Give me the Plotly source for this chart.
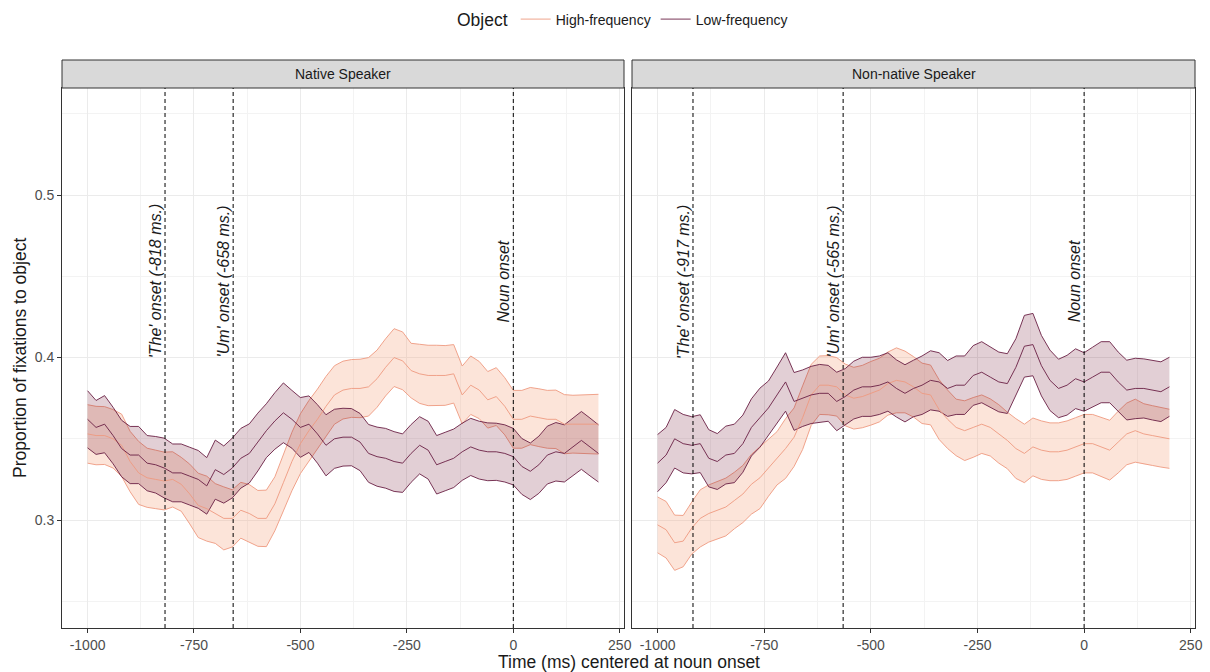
import plotly.graph_objects as go

# ---------------- data ----------------
time_ms = [-1000, -980, -960, -940, -920, -900, -880, -860, -840, -820,
           -800, -780, -760, -740, -720, -700, -680, -660, -640, -620,
           -600, -580, -560, -540, -520, -500, -480, -460, -440, -420,
           -400, -380, -360, -340, -320, -300, -280, -260, -240, -220,
           -200, -180, -160, -140, -120, -100, -80, -60, -40, -20,
           0, 20, 40, 60, 80, 100, 120, 140, 160, 180, 200]

# Native speaker, low-frequency object
native_low_mean = [0.362, 0.357, 0.359, 0.352, 0.344, 0.340, 0.340, 0.335, 0.334, 0.332,
                   0.329, 0.329, 0.327, 0.325, 0.321, 0.331, 0.328, 0.332, 0.338, 0.341,
                   0.348, 0.355, 0.361, 0.366, 0.362, 0.357, 0.359, 0.353, 0.346, 0.350,
                   0.351, 0.351, 0.348, 0.341, 0.339, 0.338, 0.336, 0.335, 0.341, 0.346,
                   0.343, 0.334, 0.336, 0.338, 0.342, 0.345, 0.343, 0.342, 0.342, 0.341,
                   0.339, 0.333, 0.330, 0.334, 0.340, 0.342, 0.341, 0.345, 0.349, 0.345, 0.341]
native_low_se = [0.0176, 0.0166, 0.0176, 0.0174, 0.0174, 0.0176, 0.0176, 0.0170, 0.0174, 0.0184,
                 0.0178, 0.0178, 0.0178, 0.0178, 0.0174, 0.0182, 0.0176, 0.0184, 0.0184, 0.0182,
                 0.0178, 0.0166, 0.0174, 0.0184, 0.0178, 0.0184, 0.0174, 0.0180, 0.0188, 0.0182,
                 0.0178, 0.0176, 0.0176, 0.0178, 0.0182, 0.0184, 0.0184, 0.0180, 0.0178, 0.0176,
                 0.0178, 0.0180, 0.0180, 0.0180, 0.0176, 0.0176, 0.0178, 0.0178, 0.0176, 0.0176,
                 0.0174, 0.0172, 0.0174, 0.0176, 0.0178, 0.0180, 0.0176, 0.0176, 0.0178, 0.0178, 0.0176]

# Native speaker, high-frequency object
native_high_mean = [0.353, 0.352, 0.352, 0.350, 0.346, 0.336, 0.329, 0.326, 0.325, 0.324,
                    0.325, 0.322, 0.316, 0.309, 0.307, 0.304, 0.301, 0.301, 0.306, 0.304,
                    0.301, 0.301, 0.310, 0.323, 0.336, 0.347, 0.355, 0.362, 0.370, 0.377,
                    0.380, 0.381, 0.381, 0.382, 0.387, 0.394, 0.400, 0.398, 0.392, 0.390,
                    0.389, 0.389, 0.389, 0.390, 0.377, 0.383, 0.380, 0.374, 0.376, 0.370,
                    0.362, 0.362, 0.364, 0.363, 0.362, 0.362, 0.359, 0.359, 0.359, 0.359, 0.359]
native_high_se = [0.0180, 0.0180, 0.0178, 0.0180, 0.0192, 0.0186, 0.0194, 0.0182, 0.0180, 0.0178,
                  0.0170, 0.0166, 0.0184, 0.0198, 0.0200, 0.0184, 0.0194, 0.0176, 0.0172, 0.0178,
                  0.0172, 0.0174, 0.0166, 0.0174, 0.0180, 0.0184, 0.0186, 0.0186, 0.0184, 0.0180,
                  0.0178, 0.0178, 0.0180, 0.0180, 0.0176, 0.0176, 0.0178, 0.0178, 0.0168, 0.0182,
                  0.0186, 0.0186, 0.0184, 0.0180, 0.0178, 0.0180, 0.0176, 0.0174, 0.0178, 0.0176,
                  0.0178, 0.0178, 0.0176, 0.0178, 0.0178, 0.0180, 0.0182, 0.0178, 0.0180, 0.0182, 0.0184]

# Non-native speaker, low-frequency object
nonnative_low_mean = [0.335, 0.340, 0.350, 0.347, 0.346, 0.347, 0.338, 0.336, 0.340, 0.341,
                      0.347, 0.357, 0.363, 0.369, 0.377, 0.385, 0.373, 0.375, 0.377, 0.378,
                      0.378, 0.373, 0.376, 0.380, 0.382, 0.382, 0.383, 0.385, 0.381, 0.378,
                      0.381, 0.383, 0.386, 0.385, 0.381, 0.383, 0.383, 0.389, 0.391, 0.388,
                      0.385, 0.384, 0.394, 0.407, 0.408, 0.395, 0.386, 0.381, 0.383, 0.387,
                      0.385, 0.388, 0.391, 0.391, 0.385, 0.380, 0.381, 0.381, 0.380, 0.379, 0.382]
nonnative_low_se = [0.0176, 0.0170, 0.0180, 0.0180, 0.0176, 0.0178, 0.0176, 0.0172, 0.0178, 0.0180,
                    0.0176, 0.0176, 0.0182, 0.0166, 0.0172, 0.0180, 0.0178, 0.0174, 0.0176, 0.0178,
                    0.0172, 0.0180, 0.0172, 0.0178, 0.0182, 0.0182, 0.0180, 0.0180, 0.0176, 0.0176,
                    0.0174, 0.0180, 0.0182, 0.0180, 0.0172, 0.0180, 0.0180, 0.0184, 0.0188, 0.0184,
                    0.0184, 0.0184, 0.0176, 0.0190, 0.0192, 0.0186, 0.0186, 0.0180, 0.0184, 0.0184,
                    0.0180, 0.0184, 0.0188, 0.0188, 0.0184, 0.0184, 0.0186, 0.0182, 0.0184, 0.0184, 0.0182]

# Non-native speaker, high-frequency object
nonnative_high_mean = [0.297, 0.294, 0.286, 0.287, 0.295, 0.301, 0.304, 0.306, 0.308, 0.312,
                       0.316, 0.322, 0.326, 0.332, 0.338, 0.344, 0.351, 0.363, 0.377, 0.383,
                       0.383, 0.382, 0.377, 0.375, 0.376, 0.378, 0.380, 0.384, 0.386, 0.385,
                       0.382, 0.378, 0.377, 0.368, 0.362, 0.357, 0.355, 0.357, 0.359, 0.357,
                       0.353, 0.349, 0.344, 0.341, 0.345, 0.343, 0.342, 0.342, 0.343, 0.345,
                       0.347, 0.347, 0.345, 0.343, 0.348, 0.353, 0.355, 0.353, 0.352, 0.351, 0.350]
nonnative_high_se = [0.0172, 0.0174, 0.0170, 0.0158, 0.0160, 0.0176, 0.0176, 0.0178, 0.0178, 0.0174,
                     0.0176, 0.0184, 0.0190, 0.0174, 0.0164, 0.0184, 0.0180, 0.0196, 0.0188, 0.0180,
                     0.0182, 0.0180, 0.0190, 0.0190, 0.0192, 0.0196, 0.0196, 0.0194, 0.0200, 0.0190,
                     0.0186, 0.0186, 0.0184, 0.0184, 0.0180, 0.0174, 0.0184, 0.0184, 0.0180, 0.0176,
                     0.0180, 0.0174, 0.0184, 0.0180, 0.0178, 0.0180, 0.0178, 0.0178, 0.0180, 0.0180,
                     0.0180, 0.0180, 0.0184, 0.0184, 0.0190, 0.0190, 0.0194, 0.0186, 0.0184, 0.0184, 0.0182]

panel_titles = ["Native Speaker", "Non-native Speaker"]
series_names = ["High-frequency", "Low-frequency"]
onsets_native = [-818, -658, 0]
onset_labels_native = ["'The' onset (-818 ms.)", "'Um' onset (-658 ms.)", "Noun onset"]
onsets_nonnative = [-917, -565, 0]
onset_labels_nonnative = ["'The' onset (-917 ms.)", "'Um' onset (-565 ms.)", "Noun onset"]
x_tick_vals = [-1000, -750, -500, -250, 0, 250]
x_tick_text = ["-1000", "-750", "-500", "-250", "0", "250"]
y_tick_vals = [0.3, 0.4, 0.5]
y_tick_text = ["0.3", "0.4", "0.5"]

for arr in [native_low_mean, native_low_se, native_high_mean, native_high_se,
            nonnative_low_mean, nonnative_low_se, nonnative_high_mean, nonnative_high_se]:
    assert len(arr) == len(time_ms), len(arr)

# ---------------- style ----------------
FONT = "Liberation Sans, Arial, sans-serif"
line_colors = {"High-frequency": "#EE9A80", "Low-frequency": "#6A1F44"}
fill_colors = {"High-frequency": "rgba(244,165,130,0.30)", "Low-frequency": "rgba(103,0,31,0.19)"}
GRID = "#EBEBEB"
MINOR = "#F3F3F3"
BORDER = "#333333"

fig = go.Figure()

panels = [
    ("x", "y", {"High-frequency": (native_high_mean, native_high_se),
                "Low-frequency": (native_low_mean, native_low_se)}),
    ("x2", "y2", {"High-frequency": (nonnative_high_mean, nonnative_high_se),
                  "Low-frequency": (nonnative_low_mean, nonnative_low_se)}),
]

for pi, (xa, ya, data) in enumerate(panels):
    for name in series_names:
        mean, se = data[name]
        lower = [m - s for m, s in zip(mean, se)]
        upper = [m + s for m, s in zip(mean, se)]
        fig.add_trace(go.Scatter(
            x=time_ms + time_ms[::-1], y=upper + lower[::-1],
            fill="toself", fillcolor=fill_colors[name], mode="lines",
            line=dict(width=0), hoverinfo="skip", showlegend=False,
            xaxis=xa, yaxis=ya))
        for edge in (lower, upper):
            fig.add_trace(go.Scatter(
                x=time_ms, y=edge, mode="lines",
                line=dict(color=line_colors[name], width=0.9),
                hoverinfo="skip", showlegend=False, xaxis=xa, yaxis=ya))
    for name in series_names:
        mean, se = data[name]
        fig.add_trace(go.Scatter(
            x=time_ms, y=mean, mode="lines", name=name, legendgroup=name,
            line=dict(color=line_colors[name], width=0.9),
            showlegend=(pi == 0), xaxis=xa, yaxis=ya))

# geometry (pixels)
L, R, T, B = 62, 15, 88, 44
W, H = 1210, 672
pw = W - L - R
ph = H - T - B
d1 = [0, (624 - L) / pw]
d2 = [(632 - L) / pw, 1]

axis_common = dict(
    showline=True, linecolor=BORDER, linewidth=1, mirror=True,
    ticks="outside", ticklen=4, tickcolor=BORDER, tickwidth=1,
    showgrid=True, gridcolor=GRID, gridwidth=1, zeroline=False,
    tickfont=dict(family=FONT, size=14, color="#4D4D4D"),
    automargin=False,
)
xcommon = dict(axis_common, range=[-1060, 260], tickmode="array",
               tickvals=x_tick_vals, ticktext=x_tick_text,
               minor=dict(tickmode="linear", tick0=0, dtick=125, showgrid=True,
                          gridcolor=MINOR, gridwidth=1, ticks=""))
ycommon = dict(axis_common, range=[0.2335, 0.566], tickmode="array",
               tickvals=y_tick_vals, ticktext=y_tick_text,
               minor=dict(tickmode="linear", tick0=0.25, dtick=0.05, showgrid=True,
                          gridcolor=MINOR, gridwidth=1, ticks=""))

fig.update_layout(
    width=W, height=H,
    margin=dict(l=L, r=R, t=T, b=B, autoexpand=False),
    paper_bgcolor="white", plot_bgcolor="white",
    font=dict(family=FONT, color="#1A1A1A"),
    xaxis=dict(xcommon, domain=d1, anchor="y"),
    yaxis=dict(ycommon, domain=[0, 1], anchor="x"),
    xaxis2=dict(xcommon, domain=d2, anchor="y2"),
    yaxis2=dict(ycommon, domain=[0, 1], anchor="x2", showticklabels=False, ticks=""),
    legend=dict(orientation="h", xref="container", yref="container",
                x=624 / W, xanchor="center", y=1 - 20 / H, yanchor="middle",
                title=dict(text="Object", font=dict(family=FONT, size=17.5, color="#1A1A1A")),
                font=dict(family=FONT, size=14, color="#1A1A1A"),
                itemwidth=30, bgcolor="rgba(0,0,0,0)"),
    showlegend=True,
)

shapes = []
annotations = []
strip_h = 28 / ph
for dom, title in zip([d1, d2], panel_titles):
    shapes.append(dict(type="rect", xref="paper", yref="paper", x0=dom[0], x1=dom[1],
                       y0=1, y1=1 + strip_h, fillcolor="#D9D9D9",
                       line=dict(color=BORDER, width=1), layer="above"))
    annotations.append(dict(xref="paper", yref="paper", x=(dom[0] + dom[1]) / 2, y=1 + strip_h / 2,
                            text=title, showarrow=False, xanchor="center", yanchor="middle",
                            font=dict(family=FONT, size=14, color="#1A1A1A")))

for xa, onsets, labels in [("x", onsets_native, onset_labels_native),
                           ("x2", onsets_nonnative, onset_labels_nonnative)]:
    for xv, lab in zip(onsets, labels):
        shapes.append(dict(type="line", xref=xa, yref="y domain" if xa == "x" else "y2 domain",
                           x0=xv, x1=xv, y0=0, y1=1,
                           line=dict(color="black", width=1, dash="4px,3px")))
        annotations.append(dict(xref=xa, yref="y" if xa == "x" else "y2", x=xv, y=0.447,
                                text="<i>" + lab + "</i>", textangle=-90, showarrow=False,
                                xanchor="center", yanchor="middle", xshift=-10,
                                font=dict(family=FONT, size=16, color="#1A1A1A")))

annotations.append(dict(xref="paper", yref="paper", x=0.5, y=(-34) / ph,
                        text="Time (ms) centered at noun onset", showarrow=False,
                        xanchor="center", yanchor="middle",
                        font=dict(family=FONT, size=17.5, color="#1A1A1A")))
annotations.append(dict(xref="paper", yref="paper", x=(20 - L) / pw, y=0.5,
                        text="Proportion of fixations to object", showarrow=False, textangle=-90,
                        xanchor="center", yanchor="middle",
                        font=dict(family=FONT, size=17.5, color="#1A1A1A")))

fig.update_layout(shapes=shapes, annotations=annotations)
fig.write_html("out.html", config={"displayModeBar": False},
               post_script="document.body.style.margin='0';document.body.style.overflow='hidden';")
